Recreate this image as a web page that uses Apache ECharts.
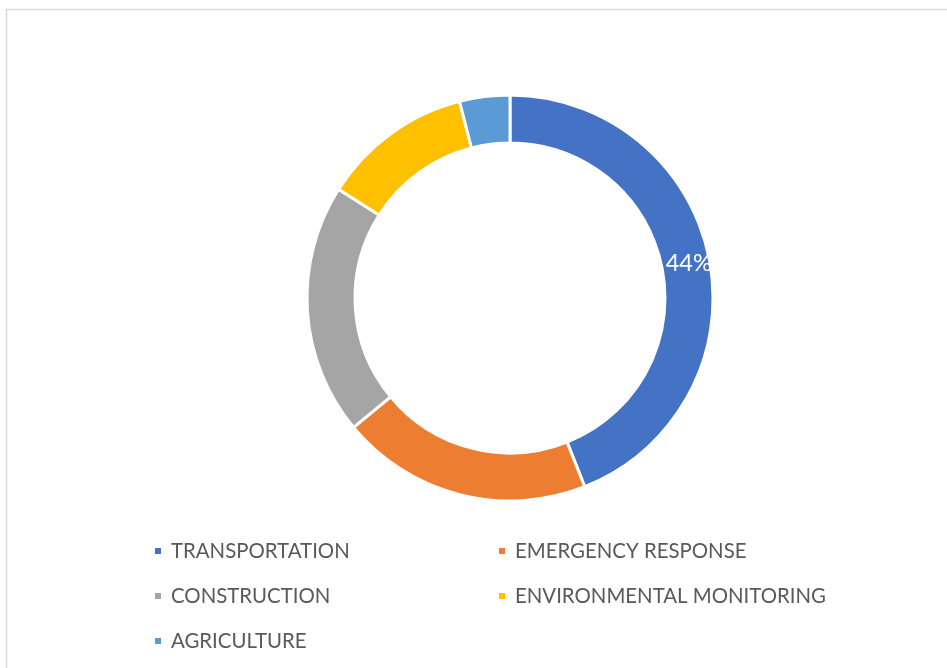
<!DOCTYPE html>
<html>
<head>
<meta charset="utf-8">
<script src="https://cdn.jsdelivr.net/npm/echarts@6/dist/echarts.min.js"></script>
<style>
  html, body { margin: 0; padding: 0; background: #fff; }
  #chart { width: 947px; height: 668px; }
</style>
</head>
<body>
<div id="chart"></div>
<script>
// Drone usage by sector, share of total (%)
const sectors = ['TRANSPORTATION', 'EMERGENCY RESPONSE', 'CONSTRUCTION', 'ENVIRONMENTAL MONITORING', 'AGRICULTURE'];
const shares = [44, 20, 20, 12, 4];
const colors = ['#4472C4', '#ED7D31', '#A5A5A5', '#FFC000', '#5B9BD5'];
const labelledSectors = ['TRANSPORTATION'];

const FONT = 'Lato';
const TEXT_COLOR = '#595959';

// Legend laid out as a two-column grid
const legendCols = [153, 497];
const legendRows = [541, 586, 631];
const legends = sectors.map((name, i) => ({
  data: [name],
  left: legendCols[i % 2],
  top: legendRows[Math.floor(i / 2)],
  padding: 0,
  icon: 'rect',
  itemWidth: 8,
  itemHeight: 8,
  itemGap: 0,
  selectedMode: false,
  textStyle: { fontFamily: FONT, fontSize: 20.4, color: TEXT_COLOR, padding: [0, 0, 0, 4] }
}));

const chart = echarts.init(document.getElementById('chart'), null, { renderer: 'canvas' });
chart.setOption({
  animation: false,
  color: colors,
  graphic: [{
    type: 'rect',
    shape: { x: 6.5, y: 9.5, width: 960, height: 680 },
    style: { fill: null, stroke: '#D9D9D9', lineWidth: 1.5 },
    silent: true
  }],
  legend: legends,
  series: [{
    type: 'pie',
    center: [510, 298],
    radius: [155, 203],
    startAngle: 90,
    clockwise: true,
    itemStyle: { borderColor: '#fff', borderWidth: 3 },
    emphasis: { disabled: true },
    labelLine: { show: false },
    data: sectors.map((name, i) => ({
      name,
      value: shares[i],
      label: {
        show: labelledSectors.includes(name),
        position: 'inside',
        formatter: p => Math.round(p.percent) + '%',
        color: '#fff',
        fontFamily: FONT,
        fontSize: 23.5
      }
    }))
  }]
});
</script>
</body>
</html>
